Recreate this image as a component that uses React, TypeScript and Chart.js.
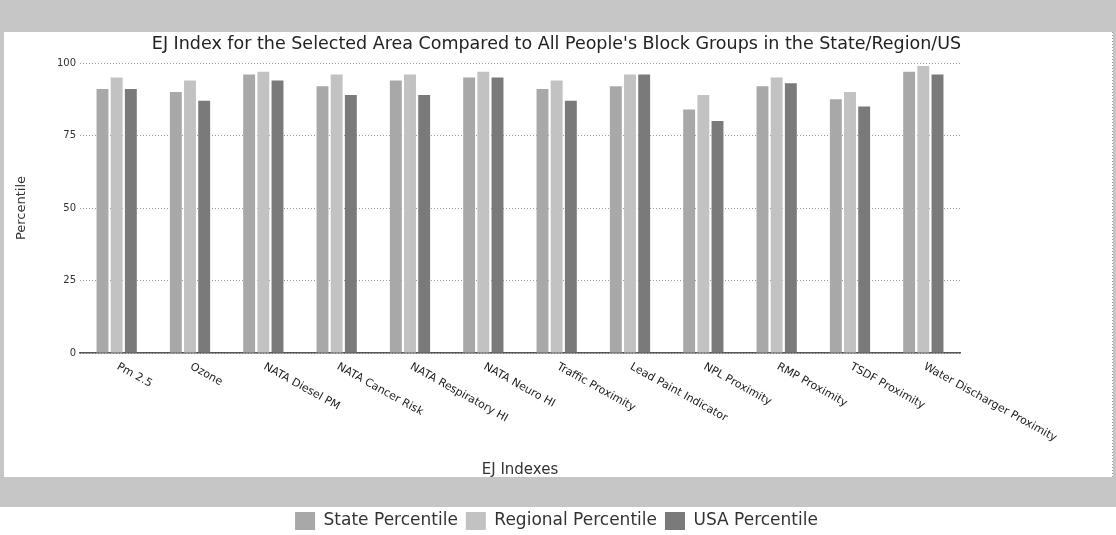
import React, { useEffect, useRef } from "react";
import { Chart, registerables } from "chart.js";

Chart.register(...registerables);

const categories = [
  "Pm 2.5",
  "Ozone",
  "NATA Diesel PM",
  "NATA Cancer Risk",
  "NATA Respiratory HI",
  "NATA Neuro HI",
  "Traffic Proximity",
  "Lead Paint Indicator",
  "NPL Proximity",
  "RMP Proximity",
  "TSDF Proximity",
  "Water Discharger Proximity",
];
const statePercentile = [91, 90, 96, 92, 94, 95, 91, 92, 84, 92, 87.5, 97];
const regionalPercentile = [95, 94, 97, 96, 96, 97, 94, 96, 89, 95, 90, 99];
const usaPercentile = [91, 87, 94, 89, 89, 95, 87, 96, 80, 93, 85, 96];
const yTicks = [0, 25, 50, 75, 100];

const titleText =
  "EJ Index for the Selected Area Compared to All People's Block Groups in the State/Region/US";

const BAND = "#c6c6c6";

const framePlugin = {
  id: "frame",
  beforeDraw(chart: any) {
    const { ctx, width, height } = chart;
    ctx.save();
    ctx.fillStyle = "#ffffff";
    ctx.fillRect(0, 0, width, height);
    ctx.fillStyle = BAND;
    ctx.fillRect(0, 0, width, 32);
    ctx.fillRect(0, 477, width, 30);
    ctx.fillRect(0, 0, 4, 507);
    ctx.fillRect(width - 3, 0, 3, 507);
    ctx.strokeStyle = "#9a9a9a";
    ctx.lineWidth = 1;
    ctx.setLineDash([1, 2]);
    ctx.beginPath();
    ctx.moveTo(width - 3.5, 32);
    ctx.lineTo(width - 3.5, 477);
    ctx.stroke();
    ctx.restore();
  },
};

const xLabelPlugin = {
  id: "xLabels",
  afterDraw(chart: any) {
    const xs = chart.scales.x;
    const ctx = chart.ctx;
    ctx.save();
    ctx.font = '11px "DejaVu Sans"';
    ctx.fillStyle = "#222";
    ctx.textAlign = "left";
    ctx.textBaseline = "middle";
    categories.forEach((c, i) => {
      const px = xs.getPixelForTick(i);
      ctx.save();
      ctx.translate(px + 1, xs.top + 13);
      ctx.rotate((29 * Math.PI) / 180);
      ctx.fillText(c, 0, 0);
      ctx.restore();
    });
    ctx.restore();
  },
};

export default function App() {
  const ref = useRef<HTMLCanvasElement | null>(null);

  useEffect(() => {
    document.body.style.margin = "0";
    const canvas = ref.current;
    if (!canvas) return;
    const chart = new Chart(canvas, {
      type: "bar",
      data: {
        labels: categories,
        datasets: [
          {
            label: "State Percentile",
            data: statePercentile,
            backgroundColor: "#a8a8a8",
            borderWidth: 0,
          },
          {
            label: "Regional Percentile",
            data: regionalPercentile,
            backgroundColor: "#c2c2c2",
            borderWidth: 0,
          },
          {
            label: "USA Percentile",
            data: usaPercentile,
            backgroundColor: "#7a7a7a",
            borderWidth: 0,
          },
        ],
      },
      options: {
        responsive: false,
        animation: false,
        maintainAspectRatio: false,
        layout: { padding: { top: 32, left: 10, right: 13, bottom: -5 } },
        datasets: {
          bar: { categoryPercentage: 0.58, barPercentage: 0.84 },
        },
        plugins: {
          title: {
            display: true,
            text: titleText,
            color: "#222",
            font: { family: '"DejaVu Sans"', size: 17.5, weight: "normal" },
            padding: { top: 2, bottom: 8 },
          },
          legend: {
            position: "bottom",
            labels: {
              color: "#333",
              font: { family: '"DejaVu Sans"', size: 17 },
              boxWidth: 20,
              boxHeight: 18,
              padding: 8,
            },
          },
          tooltip: { enabled: false },
        },
        scales: {
          x: {
            afterFit: (s: any) => {
              s.height = 151;
            },
            grid: { display: false },
            border: { display: true, color: "#555", width: 1.5 },
            ticks: { display: false },
            title: {
              display: true,
              text: "EJ Indexes",
              color: "#333",
              font: { family: '"DejaVu Sans"', size: 15 },
              padding: { top: 4, bottom: 25 },
            },
          },
          y: {
            min: 0,
            max: 100,
            afterFit: (s: any) => {
              s.width = 70;
            },
            afterBuildTicks: (s: any) => {
              s.ticks = yTicks.map((v) => ({ value: v }));
            },
            grid: { color: "#9a9a9a", lineWidth: 1, drawTicks: false },
            border: { display: false, dash: [1, 2] },
            ticks: {
              color: "#333",
              font: { family: '"DejaVu Sans"', size: 10 },
              padding: 4,
            },
            title: {
              display: true,
              text: "Percentile",
              color: "#333",
              font: { family: '"DejaVu Sans"', size: 13 },
              padding: { top: 4, bottom: 4 },
            },
          },
          yRight: {
            position: "right",
            min: 0,
            max: 1,
            afterFit: (s: any) => {
              s.width = 143;
            },
            grid: { display: false, drawTicks: false },
            border: { display: false },
            ticks: { display: false },
          },
        },
      },
      plugins: [framePlugin, xLabelPlugin],
    });
    return () => chart.destroy();
  }, []);

  return <canvas ref={ref} width={1116} height={535} style={{ display: "block" }} />;
}
